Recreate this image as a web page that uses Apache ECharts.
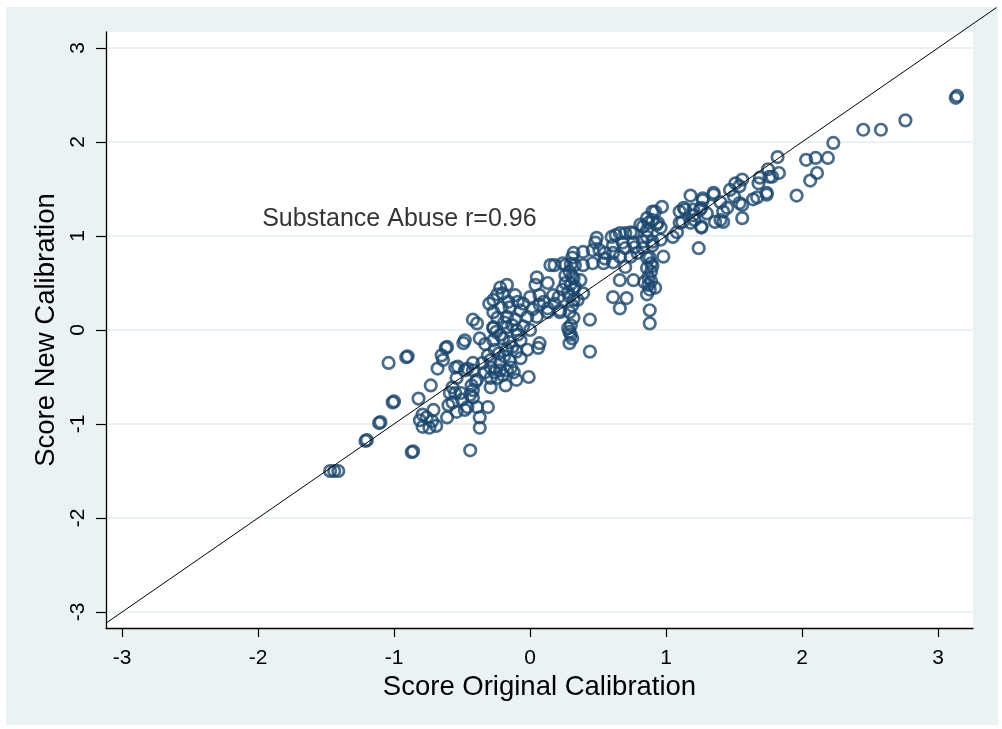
<!DOCTYPE html>
<html><head><meta charset="utf-8">
<script src="https://cdn.jsdelivr.net/npm/echarts@6/dist/echarts.min.js"></script>
<style>html,body{margin:0;padding:0;background:#fff}#c{width:1002px;height:729px}</style>
</head><body><div id="c"></div>
<script>
// Tick labels
const axisTicks = [-3, -2, -1, 0, 1, 2, 3];

// [Score Original Calibration, Score New Calibration]
const lowTail = [
[-1.47,-1.50],[-1.44,-1.50],[-1.41,-1.50],
[-1.21,-1.18],[-1.20,-1.17],
[-1.11,-0.99],[-1.10,-0.98],
[-1.01,-0.77],[-1.00,-0.76],
[-1.04,-0.35],
[-0.91,-0.29],[-0.90,-0.28],
[-0.87,-1.30],[-0.86,-1.29],
[-0.82,-0.73],[-0.73,-0.59],[-0.68,-0.41],[-0.65,-0.27],[-0.62,-0.19],
[-0.81,-0.96],[-0.79,-1.03],[-0.74,-1.04],[-0.76,-0.93],[-0.69,-1.02],[-0.71,-0.85],[-0.79,-0.90],[-0.72,-0.97],
[-0.61,-0.93],[-0.60,-0.80],[-0.57,-0.77],[-0.54,-0.87],[-0.50,-0.74],[-0.48,-0.85],[-0.46,-0.82],
[-0.42,-0.72],[-0.39,-0.82],[-0.37,-0.93],[-0.31,-0.82],[-0.37,-1.04],[-0.44,-1.28],
[-0.55,-0.67],[-0.57,-0.61],[-0.43,-0.59],[-0.40,-0.55],[-0.54,-0.51],[-0.55,-0.40],[-0.46,-0.41],
[-0.42,-0.35],[-0.49,-0.14],[-0.48,-0.11],[-0.37,-0.09],[-0.61,-0.18],[-0.64,-0.32]
];

const centerCloud = [
[-0.17,0.48],[-0.20,0.39],[-0.27,0.32],[0.05,0.56],[0.04,0.48],[0.13,0.50],[0.17,0.37],[0.21,0.35],[0.26,0.50],[-0.11,0.37],[-0.09,0.30],[0.00,0.35],[0.07,0.37],
[-0.42,0.11],[-0.27,0.19],[-0.21,0.24],[-0.15,0.24],[-0.07,0.21],[-0.24,0.13],[-0.17,0.14],[-0.11,0.11],[-0.02,0.14],[0.05,0.14],[0.13,0.19],[0.22,0.21],
[-0.27,0.02],[-0.17,0.03],[-0.10,0.00],[0.00,0.00],
[-0.27,-0.11],[-0.20,-0.09],[-0.15,-0.13],[-0.07,-0.11],[0.07,-0.14],[0.06,-0.19],
[-0.26,-0.21],[-0.17,-0.21],[-0.10,-0.23],[-0.02,-0.21],
[-0.53,-0.39],[-0.48,-0.43],[-0.42,-0.43],[-0.29,-0.32],[-0.29,-0.40],[-0.22,-0.34],[-0.22,-0.43],[-0.15,-0.32],[-0.07,-0.30],[-0.17,-0.43],
[-0.39,-0.53],[-0.29,-0.51],[-0.24,-0.51],[-0.18,-0.59],[-0.01,-0.50],[-0.10,-0.53],
[-0.59,-0.67],[-0.51,-0.67],[-0.42,-0.64],[-0.44,-0.69],[-0.29,-0.61],
[-0.39,0.07],[-0.27,0.03],[-0.22,-0.05],
[0.15,0.69],[0.07,0.27],[0.13,0.23],[0.24,0.71],[0.22,0.19],
[-0.25,-0.02],[-0.19,0.08],[-0.13,0.05],[-0.23,-0.25],[-0.19,-0.28],[-0.13,-0.18],[-0.09,-0.05],[-0.05,0.04],
[-0.31,-0.27],[-0.33,-0.45],[-0.26,-0.45],[-0.20,-0.48],[-0.14,-0.40],[-0.12,-0.45],[-0.33,-0.15],[-0.35,-0.35],
[-0.16,0.30],[-0.05,0.28],[0.02,0.22],[0.10,0.30],[0.18,0.28],[-0.30,0.28],[-0.22,0.45],[-0.24,0.38]
];

const midBand = [
[0.31,0.77],[0.33,0.69],[0.29,0.62],[0.32,0.55],[0.30,0.49],[0.32,0.43],[0.29,0.36],[0.32,0.32],[0.31,0.26],[0.29,0.19],
[0.32,0.13],[0.30,0.05],[0.29,-0.02],[0.31,-0.09],[0.29,-0.14],[0.26,0.58],[0.37,0.53],[0.35,0.32],[0.39,0.39],[0.24,0.43],
[0.30,0.70],[0.28,0.40],[0.33,0.46],[0.31,0.57],[0.30,-0.05],[0.28,0.02],
[0.44,0.11],[0.44,-0.23],[0.39,0.69],[0.26,0.69],[0.18,0.69],
[0.49,0.98],[0.48,0.93],[0.46,0.85],[0.51,0.85],[0.55,0.82],[0.61,0.82],[0.66,0.78],[0.74,0.78],[0.79,0.82],[0.39,0.83],
[0.32,0.82],[0.46,0.71],[0.54,0.71],[0.61,0.72],[0.70,0.67],
[0.81,1.12],[0.86,1.06],[0.93,1.12],[0.76,1.03],[0.70,1.03],[0.63,1.01],[0.61,0.90],[0.68,0.93],[0.76,0.93],[0.83,0.94],[0.90,0.90],
[0.92,1.26],[0.86,1.19],[0.74,1.04],[0.66,1.03],[0.60,0.99],[0.55,0.76],[0.77,0.88],[0.70,0.87],
[0.88,0.77],[0.89,0.71],[0.86,0.66],[0.89,0.62],[0.87,0.56],[0.89,0.52],[0.87,0.48],[0.88,0.43],[0.86,0.38],[0.92,0.45],
[0.84,0.51],[0.90,0.68],[0.88,0.21],[0.88,0.07],
[0.66,0.53],[0.76,0.53],[0.61,0.35],[0.71,0.34],[0.66,0.23]
];

const upperBand = [
[0.97,1.31],[0.90,1.26],[0.90,1.17],[0.87,1.14],[0.83,1.10],[0.94,1.14],[0.96,1.09],[0.86,0.99],[0.96,0.96],[0.90,0.94],
[0.98,0.78],[1.24,0.87],[0.83,0.87],[0.86,0.77],[1.08,1.04],[1.05,0.99],[1.10,1.14],[1.13,1.30],[1.14,1.28],[1.10,1.26],
[1.20,1.28],[1.21,1.17],[1.18,1.14],[1.26,1.30],[1.30,1.24],[1.26,1.09],[1.27,1.38],[1.18,1.43],[1.35,1.46],[1.35,1.44],
[1.27,1.40],[1.25,1.28],[1.20,1.22],[1.12,1.15],[1.26,1.10],
[1.45,1.30],[1.42,1.26],[1.40,1.17],[1.36,1.15],[1.42,1.15],[1.54,1.35],[1.56,1.33],[1.56,1.19],[1.47,1.49],[1.51,1.56],
[1.54,1.53],[1.56,1.60],[1.64,1.39],[1.67,1.41],[1.74,1.44],[1.74,1.46],[1.68,1.56],[1.69,1.62],[1.76,1.63],[1.78,1.63],
[1.75,1.71],[1.83,1.67],[1.82,1.84],[1.50,1.42],[1.40,1.36]
];

const upperTail = [
[1.96,1.43],[2.06,1.59],[2.11,1.67],[2.03,1.81],[2.10,1.83],[2.19,1.83],[2.23,1.99],[2.45,2.13],[2.58,2.13],[2.76,2.23],[3.13,2.47],[3.14,2.49]
];

// Reference line y = x (end points in data units)
const identityLine = [[-3.118,-3.118],[3.43,3.43]];

const annotation = { x: -1.97, y: 1.18, text: 'Substance Abuse r=0.96' };

const FONT = '"Liberation Sans", Arial, sans-serif';
const allPoints = [].concat(lowTail, centerCloud, midBand, upperBand, upperTail);

const bgRect = {
  type: 'rect', z: -100, silent: true,
  shape: { x: 6, y: 7, width: 992, height: 718 },
  style: { fill: '#EAF2F3' }
};

const chart = echarts.init(document.getElementById('c'));
chart.setOption({
  animation: false,
  backgroundColor: '#ffffff',
  textStyle: { fontFamily: FONT },
  graphic: [bgRect],
  grid: { left: 106, right: 29, top: 32, bottom: 101, show: true, backgroundColor: '#ffffff', borderWidth: 0 },
  xAxis: {
    type: 'value', min: -3.118, max: 3.257,
    axisLine: { onZero: false, lineStyle: { color: '#000', width: 1.3 } },
    axisTick: { customValues: axisTicks, length: 9, lineStyle: { color: '#000', width: 1.2 } },
    axisLabel: { customValues: axisTicks, fontSize: 21, color: '#000', margin: 20, fontFamily: FONT },
    splitLine: { show: false },
    name: 'Score Original Calibration', nameLocation: 'middle', nameGap: 39,
    nameTextStyle: { fontSize: 27.5, color: '#000', fontFamily: FONT }
  },
  yAxis: {
    type: 'value', min: -3.17, max: 3.17,
    axisLine: { onZero: false, lineStyle: { color: '#000', width: 1.3 } },
    axisTick: { customValues: axisTicks, length: 10, lineStyle: { color: '#000', width: 1.2 } },
    axisLabel: { customValues: axisTicks, fontSize: 21, color: '#000', margin: 17, rotate: 90, fontFamily: FONT },
    splitLine: { show: true, lineStyle: { color: '#EAF2F3', width: 2 } },
    name: 'Score New Calibration', nameLocation: 'middle', nameGap: 46,
    nameTextStyle: { fontSize: 27.5, color: '#000', fontFamily: FONT }
  },
  series: [
    {
      type: 'scatter', data: allPoints, symbol: 'circle', symbolSize: 11.5,
      itemStyle: { color: 'rgba(0,0,0,0)', borderColor: '#1a476f', borderWidth: 2.7 },
      z: 2
    },
    {
      type: 'scatter', data: [[annotation.x, annotation.y]], symbolSize: 0, silent: true,
      label: { show: true, position: 'right', distance: 0, formatter: annotation.text, fontSize: 25, color: '#000', fontFamily: FONT },
      z: 4
    }
  ]
});

// Diagonal y = x drawn through the chart's own scale; it runs past the plot area as in the original
const p1 = chart.convertToPixel({ xAxisIndex: 0, yAxisIndex: 0 }, identityLine[0]);
const p2 = chart.convertToPixel({ xAxisIndex: 0, yAxisIndex: 0 }, identityLine[1]);
chart.setOption({
  graphic: [bgRect, {
    type: 'line', z: 100, silent: true,
    shape: { x1: p1[0], y1: p1[1], x2: p2[0], y2: p2[1] },
    style: { stroke: '#000', lineWidth: 1 }
  }]
});
</script>
</body></html>
